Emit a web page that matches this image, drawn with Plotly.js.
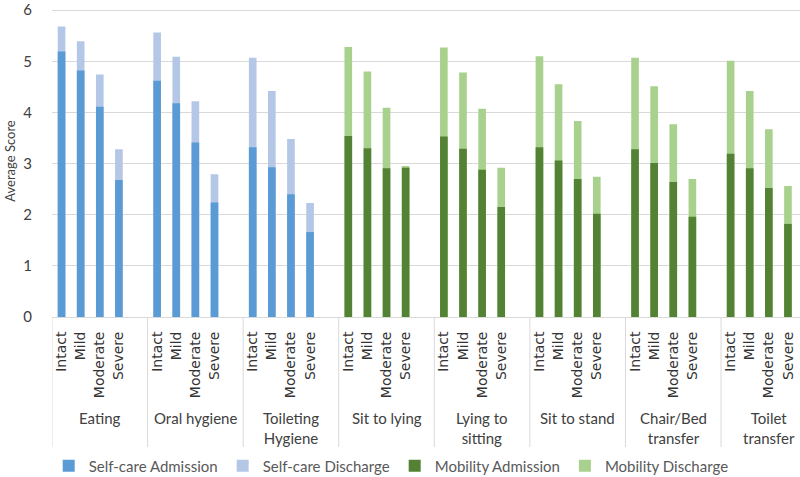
<!DOCTYPE html>
<html>
<head>
<meta charset="utf-8">
<script src="https://cdn.plot.ly/plotly-3.0.1.min.js"></script>
<style>html,body{margin:0;padding:0;background:#fff;}#chart{width:800px;height:477px;}</style>
</head>
<body>
<div id="chart"></div>
<script>
// ---- data ----
const groups = ['Eating', 'Oral hygiene', 'Toileting<br>Hygiene', 'Sit to lying', 'Lying to<br>sitting', 'Sit to stand', 'Chair/Bed<br>transfer', 'Toilet<br>transfer'];
const levels = ['Intact', 'Mild', 'Moderate', 'Severe'];
const selfCareGroups = [0, 1, 2];
const mobilityGroups = [3, 4, 5, 6, 7];
const selfCareAdmission = [5.19, 4.82, 4.11, 2.68, 4.62, 4.18, 3.41, 2.24, 3.32, 2.93, 2.40, 1.66];
const selfCareDischarge = [5.68, 5.39, 4.74, 3.28, 5.56, 5.09, 4.22, 2.79, 5.07, 4.42, 3.48, 2.23];
const mobilityAdmission = [3.54, 3.30, 2.91, 2.92, 3.53, 3.29, 2.88, 2.15, 3.32, 3.06, 2.70, 2.02, 3.28, 3.01, 2.64, 1.96, 3.19, 2.91, 2.52, 1.82];
const mobilityDischarge = [5.28, 4.80, 4.09, 2.95, 5.27, 4.78, 4.07, 2.92, 5.10, 4.55, 3.83, 2.74, 5.07, 4.51, 3.77, 2.70, 5.01, 4.42, 3.67, 2.56];
const yTicks = [0, 1, 2, 3, 4, 5, 6];

// ---- layout helpers ----
const slotsPerGroup = levels.length + 1; // one empty slot after each group
function positions(groupList) {
  const xs = [];
  groupList.forEach(g => levels.forEach((l, i) => xs.push(g * slotsPerGroup + i)));
  return xs;
}
const xSelf = positions(selfCareGroups);
const xMob = positions(mobilityGroups);
const allGroups = groups.map((g, i) => i);
const tickvals = positions(allGroups);
const ticktext = [];
allGroups.forEach(() => levels.forEach(l => ticktext.push(l)));

const barW = 0.4;
const traces = [
  {type: 'bar', name: 'Self-care Discharge', x: xSelf, y: selfCareDischarge, width: barW, marker: {color: '#B4C7E7'}, legendrank: 2},
  {type: 'bar', name: 'Self-care Admission', x: xSelf, y: selfCareAdmission, width: barW, marker: {color: '#5B9BD5'}, legendrank: 1},
  {type: 'bar', name: 'Mobility Discharge', x: xMob, y: mobilityDischarge, width: barW, marker: {color: '#A9D18E'}, legendrank: 4},
  {type: 'bar', name: 'Mobility Admission', x: xMob, y: mobilityAdmission, width: barW, marker: {color: '#548235'}, legendrank: 3}
];

const divY = -0.417;
const shapes = allGroups.map(g => ({
  type: 'line', xref: 'x', yref: 'paper',
  x0: g * slotsPerGroup - 0.5, x1: g * slotsPerGroup - 0.5,
  y0: 0, y1: divY,
  line: {color: '#d9d9d9', width: 1}
}));

const annotations = groups.map((g, i) => ({
  text: g, xref: 'x', yref: 'paper',
  x: i * slotsPerGroup + (slotsPerGroup - 1) / 2, y: -0.289,
  xanchor: 'center', yanchor: 'top', showarrow: false,
  font: {family: 'Lato, sans-serif', size: 15, color: '#404040'}
}));

const layout = {
  width: 800, height: 477,
  margin: {l: 52, r: 0, t: 5, b: 160},
  paper_bgcolor: '#fff', plot_bgcolor: '#fff',
  barmode: 'overlay',
  showlegend: true,
  legend: {
    orientation: 'h', xref: 'container', yref: 'container',
    x: 0.489, xanchor: 'center', y: 0.023, yanchor: 'middle',
    font: {family: 'Lato, sans-serif', size: 15, color: '#595959'},
    traceorder: 'normal'
  },
  xaxis: {
    range: [-0.5, 38.63],
    tickmode: 'array', tickvals: tickvals, ticktext: ticktext,
    tickangle: -90, ticks: '', showgrid: false, zeroline: false,
    showline: true, linecolor: '#d9d9d9', linewidth: 1,
    ticklabelstandoff: 8,
    tickfont: {family: 'DejaVu Sans, sans-serif', size: 14, color: '#333'},
    fixedrange: true
  },
  yaxis: {
    range: [0, 6.1],
    tickmode: 'array', tickvals: yTicks,
    showgrid: true, gridcolor: '#d9d9d9', gridwidth: 1,
    zeroline: false, showline: false, ticks: '',
    ticklabelstandoff: 19,
    ticklabeloverflow: 'allow',
    tickfont: {family: 'Lato, sans-serif', size: 15, color: '#404040'},
    title: {text: 'Average Score', font: {family: 'Lato, sans-serif', size: 13, color: '#404040'}, standoff: 4},
    fixedrange: true
  },
  shapes: shapes,
  annotations: annotations
};

Plotly.newPlot('chart', traces, layout, {displayModeBar: false, staticPlot: true});
</script>
</body>
</html>
